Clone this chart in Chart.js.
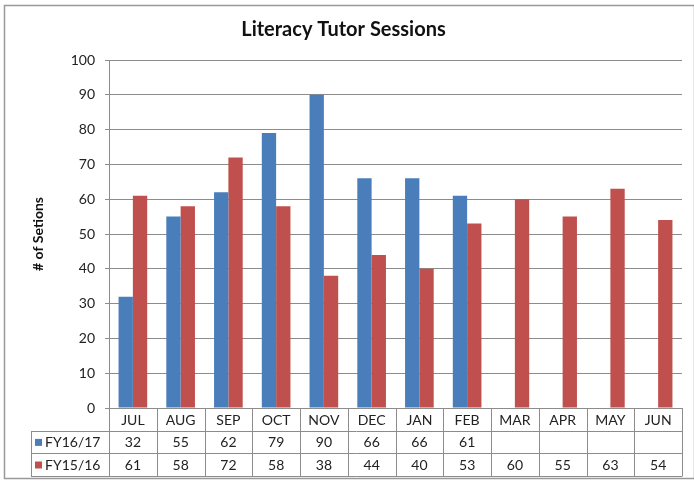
<!DOCTYPE html>
<html>
<head>
<meta charset="utf-8">
<script src="https://cdn.jsdelivr.net/npm/chart.js@4/dist/chart.umd.min.js"></script>
<style>
  html, body { margin: 0; padding: 0; background: #fff; }
  #wrap { width: 694px; height: 483px; }
</style>
</head>
<body>
<div id="wrap"><canvas id="sessionsChart" width="694" height="483"></canvas></div>
<script>
// chart data
var months = ['JUL', 'AUG', 'SEP', 'OCT', 'NOV', 'DEC', 'JAN', 'FEB', 'MAR', 'APR', 'MAY', 'JUN'];
var fy1617 = [32, 55, 62, 79, 90, 66, 66, 61, null, null, null, null];
var fy1516 = [61, 58, 72, 58, 38, 44, 40, 53, 60, 55, 63, 54];
var seriesNames = ['FY16/17', 'FY15/16'];
var yTicks = [0, 10, 20, 30, 40, 50, 60, 70, 80, 90, 100];

var blue = '#4a7ebb';
var red = '#c0504d';
var lineColor = '#8c8c8c';
var font = 'Lato, "Liberation Sans", sans-serif';

// frame around the whole picture
var framePlugin = {
    id: 'frame',
    beforeDraw: function(chart) {
        var ctx = chart.ctx;
        ctx.save();
        ctx.fillStyle = '#fff';
        ctx.fillRect(0, 0, chart.width, chart.height);
        ctx.strokeStyle = '#999';
        ctx.lineWidth = 1.5;
        ctx.strokeRect(4.5, 5.5, 690, 473);
        ctx.restore();
    }
};

// data table under the x axis
var tablePlugin = {
    id: 'dataTable',
    afterDraw: function(chart) {
        var ctx = chart.ctx;
        var area = chart.chartArea;
        var x = chart.scales.x;
        var w = (area.right - area.left) / months.length;
        var rowH = 22.6;
        var y0 = area.bottom;
        var y1 = y0 + rowH, y2 = y1 + rowH, y3 = y2 + rowH;
        var legLeft = 31;

        ctx.save();
        ctx.strokeStyle = lineColor;
        ctx.lineWidth = 1;
        ctx.beginPath();
        ctx.moveTo(legLeft, Math.round(y1) + 0.5); ctx.lineTo(area.right, Math.round(y1) + 0.5);
        ctx.moveTo(legLeft, Math.round(y2) + 0.5); ctx.lineTo(area.right, Math.round(y2) + 0.5);
        ctx.moveTo(legLeft, Math.round(y3) + 0.5); ctx.lineTo(area.right, Math.round(y3) + 0.5);
        ctx.moveTo(legLeft + 0.5, Math.round(y1)); ctx.lineTo(legLeft + 0.5, Math.round(y3));
        for (var i = 0; i <= months.length; i++) {
            var bx = Math.round(area.left + i * w) + 0.5;
            ctx.moveTo(bx, y0); ctx.lineTo(bx, Math.round(y3) + 0.5);
        }
        ctx.stroke();

        ctx.fillStyle = '#222';
        ctx.font = '14px ' + font;
        ctx.textAlign = 'center';
        ctx.textBaseline = 'middle';
        var rows = [fy1617, fy1516];
        months.forEach(function(m, i) {
            var cx = x.getPixelForValue(i);
            ctx.fillText(m, cx, (y0 + y1) / 2 + 1);
            rows.forEach(function(r, j) {
                if (r[i] !== null) {
                    ctx.fillText(String(r[i]), cx, (j === 0 ? (y1 + y2) / 2 : (y2 + y3) / 2) + 1);
                }
            });
        });

        // legend keys
        var colors = [blue, red];
        ctx.textAlign = 'left';
        seriesNames.forEach(function(name, j) {
            var cy = j === 0 ? (y1 + y2) / 2 : (y2 + y3) / 2;
            ctx.fillStyle = colors[j];
            ctx.fillRect(35, cy - 3, 7, 7);
            ctx.fillStyle = '#222';
            ctx.fillText(name, 45, cy + 1);
        });
        ctx.restore();
    }
};

var ctx = document.getElementById('sessionsChart').getContext('2d');
var sessionsChart = new Chart(ctx, {
    type: 'bar',
    data: {
        labels: months,
        datasets: [{
            label: seriesNames[0],
            data: fy1617,
            backgroundColor: blue,
            borderWidth: 0
        }, {
            label: seriesNames[1],
            data: fy1516,
            backgroundColor: red,
            borderWidth: 0
        }]
    },
    options: {
        responsive: false,
        animation: false,
        layout: {
            padding: { top: 10, left: 5, right: 12, bottom: 75 }
        },
        plugins: {
            legend: { display: false },
            tooltip: { enabled: false },
            title: {
                display: true,
                text: 'Literacy Tutor Sessions',
                color: '#111',
                font: { family: font, size: 20, weight: 'bold', lineHeight: 1.2 },
                padding: { top: 8, bottom: 18 }
            }
        },
        datasets: {
            bar: {
                categoryPercentage: 0.6,
                barPercentage: 1.0
            }
        },
        scales: {
            x: {
                display: false
            },
            y: {
                min: 0,
                max: 100,
                afterBuildTicks: function(scale) {
                    scale.ticks = yTicks.map(function(v) { return { value: v }; });
                },
                afterFit: function(scale) {
                    scale.width = 104;
                },
                ticks: {
                    color: '#222',
                    padding: 10,
                    font: { family: font, size: 14 }
                },
                grid: {
                    color: lineColor,
                    tickLength: 4,
                    lineWidth: 1
                },
                border: {
                    display: true,
                    color: lineColor
                },
                title: {
                    display: true,
                    text: '# of Setions',
                    color: '#111',
                    font: { family: font, size: 14, weight: 'bold' },
                    padding: { top: 25, bottom: 4 }
                }
            }
        }
    },
    plugins: [framePlugin, tablePlugin]
});
</script>
</body>
</html>
